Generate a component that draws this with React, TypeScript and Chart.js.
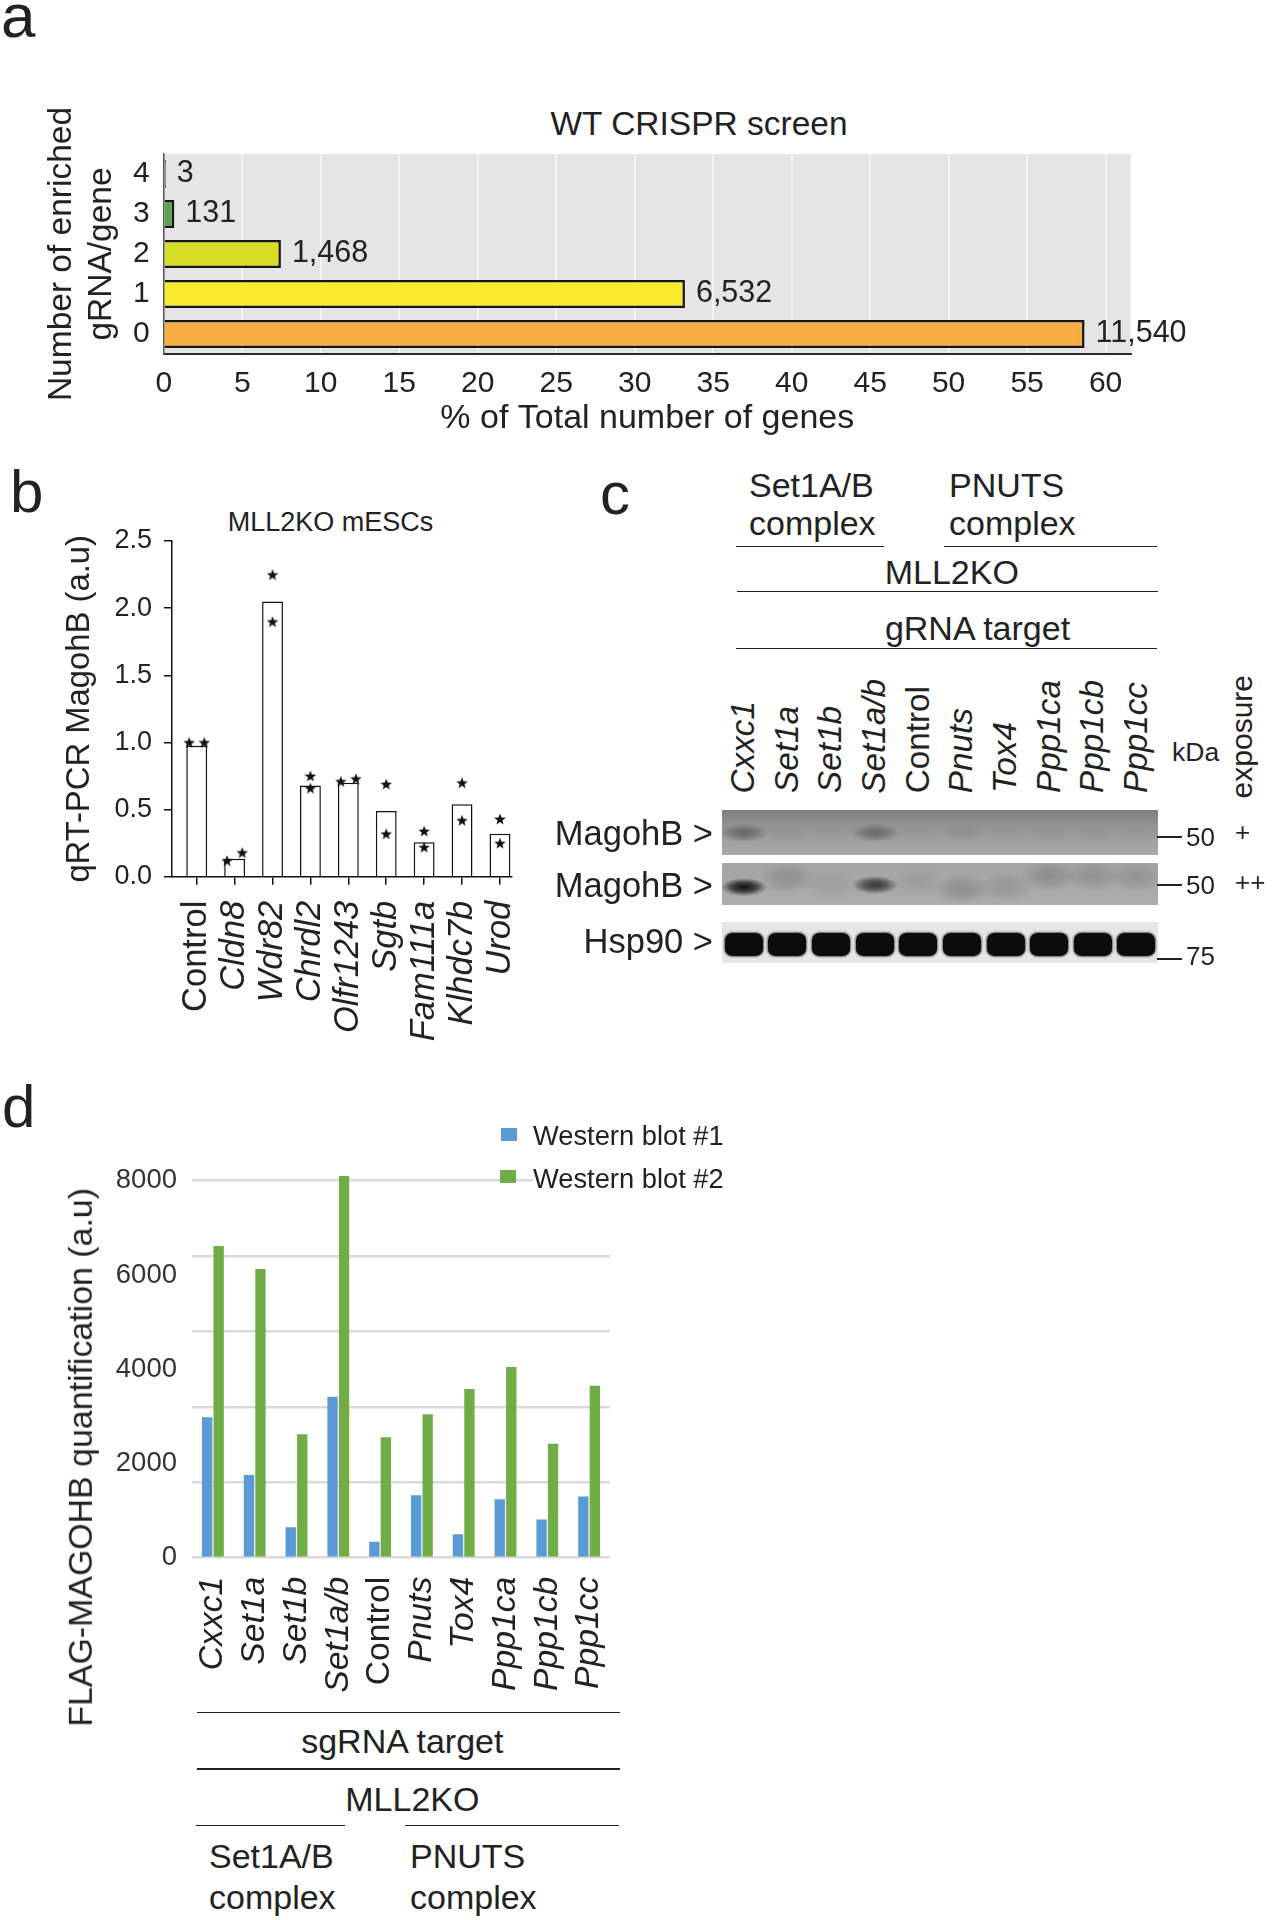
import React, { useEffect, useRef } from 'react';
import { Chart, registerables } from 'chart.js';

Chart.register(...registerables);

const FONT = '"Liberation Sans", Arial, Helvetica, sans-serif';
const INK = '#222222';
Chart.defaults.font.family = FONT;

// ---------------- Panel a : WT CRISPR screen ----------------
const aCategories = ['4', '3', '2', '1', '0'];
const aPercent = [0.02, 0.67, 7.46, 33.2, 58.66];
const aCounts = [3, 131, 1468, 6532, 11540];
const aColors = ['#4E9A45', '#5BA14F', '#D6DE24', '#F9EC30', '#F9AE43'];
const aXTicks = [0, 5, 10, 15, 20, 25, 30, 35, 40, 45, 50, 55, 60];

// ---------------- Panel b : qRT-PCR MagohB ----------------
const bCategories = ['Control', 'Cldn8', 'Wdr82', 'Chrdl2', 'Olfr1243', 'Sgtb', 'Fam111a', 'Klhdc7b', 'Urod'];
const bItalic = [false, true, true, true, true, true, true, true, true];
const bMeans = [0.975, 0.134, 2.05, 0.68, 0.7, 0.49, 0.257, 0.54, 0.32];
const bRep1 = [1.0, 0.12, 2.25, 0.75, 0.71, 0.69, 0.34, 0.7, 0.43];
const bRep2 = [1.0, 0.18, 1.9, 0.66, 0.73, 0.32, 0.22, 0.42, 0.25];
const bSideBySide = [true, true, false, false, true, false, false, false, false];
const bYTicks = [0, 0.5, 1.0, 1.5, 2.0, 2.5];

// ---------------- Panel c : western blot ----------------
const cLanes = ['Cxxc1', 'Set1a', 'Set1b', 'Set1a/b', 'Control', 'Pnuts', 'Tox4', 'Ppp1ca', 'Ppp1cb', 'Ppp1cc'];
const cItalic = [true, true, true, true, false, true, true, true, true, true];
const cBlot1Intensity = [0.34, 0.04, 0.02, 0.32, 0.02, 0.07, 0.02, 0.04, 0.03, 0.02];
const cBlot1Pos = [0.5, 0.5, 0.5, 0.5, 0.5, 0.5, 0.5, 0.5, 0.5, 0.5];
const cBlot2Intensity = [0.95, 0.14, 0.06, 0.72, 0.07, 0.16, 0.12, 0.15, 0.13, 0.12];
const cBlot2Pos = [0.57, 0.35, 0.5, 0.52, 0.45, 0.62, 0.58, 0.3, 0.3, 0.32];
const cHspIntensity = [1, 1, 1, 1, 1, 1, 1, 1, 1, 1];

// ---------------- Panel d : FLAG-MAGOHB quantification ----------------
const dCategories = ['Cxxc1', 'Set1a', 'Set1b', 'Set1a/b', 'Control', 'Pnuts', 'Tox4', 'Ppp1ca', 'Ppp1cb', 'Ppp1cc'];
const dWB1 = [2980, 1755, 645, 3417, 340, 1324, 500, 1242, 809, 1299];
const dWB2 = [6615, 6127, 2618, 8100, 2555, 3043, 3578, 4046, 2416, 3647];
const dGridTicks = [0, 1600, 3200, 4800, 6400, 8000];
const dLabelTicks = [0, 2000, 4000, 6000, 8000];
const dSeries = ['Western blot #1', 'Western blot #2'];
const dColors = ['#5B9BD5', '#70AD47'];

// ---------------- helpers ----------------
function Txt(props: any) {
  const { x, y, size, children, align = 'left', italic = false, bg } = props;
  const style: any = {
    position: 'absolute',
    top: y - 0.8465 * size,
    fontSize: size,
    lineHeight: `${size}px`,
    height: size,
    fontFamily: FONT,
    color: INK,
    whiteSpace: 'nowrap',
    fontStyle: italic ? 'italic' : 'normal',
  };
  if (bg) style.background = bg;
  if (align === 'left') style.left = x;
  else if (align === 'right') style.right = 1274 - x;
  else {
    style.left = x;
    style.transform = 'translateX(-50%)';
  }
  return <div style={style}>{children}</div>;
}

function VTxt(props: any) {
  const { cx, bottom, size, italic = false, children } = props;
  return (
    <div
      style={{
        position: 'absolute',
        left: cx - size / 2,
        bottom: 1920 - bottom,
        width: size,
        fontSize: size,
        lineHeight: `${size}px`,
        fontFamily: FONT,
        color: INK,
        whiteSpace: 'nowrap',
        fontStyle: italic ? 'italic' : 'normal',
        writingMode: 'vertical-rl',
        transform: 'rotate(180deg)',
      }}
    >
      {children}
    </div>
  );
}

function HLine(props: any) {
  const { x1, x2, y, w = 1.5 } = props;
  return <div style={{ position: 'absolute', left: x1, top: y - w / 2, width: x2 - x1, height: w, background: INK }} />;
}

function ChartCanvas(props: any) {
  const { left, top, width, height, build } = props;
  const ref = useRef<HTMLCanvasElement>(null);
  useEffect(() => {
    const chart = build(ref.current);
    return () => chart.destroy();
  }, []);
  return (
    <canvas
      ref={ref}
      width={width}
      height={height}
      style={{ position: 'absolute', left, top, width, height }}
    />
  );
}

function makeStar(size: number) {
  const c = document.createElement('canvas');
  c.width = size;
  c.height = size;
  const g = c.getContext('2d') as CanvasRenderingContext2D;
  const cx = size / 2;
  const cy = size / 2 + size * 0.05;
  const R = size / 2;
  const r = R * 0.42;
  g.beginPath();
  for (let k = 0; k < 10; k++) {
    const ang = -Math.PI / 2 + (k * Math.PI) / 5;
    const rad = k % 2 === 0 ? R : r;
    const px = cx + rad * Math.cos(ang);
    const py = cy + rad * Math.sin(ang);
    if (k === 0) g.moveTo(px, py);
    else g.lineTo(px, py);
  }
  g.closePath();
  g.fillStyle = '#111';
  g.fill();
  return c;
}

// ---------------- chart builders ----------------
function buildA(canvas: HTMLCanvasElement) {
  const bgPlugin = {
    id: 'aBackground',
    beforeDraw(chart: any) {
      const { ctx, chartArea: a } = chart;
      ctx.save();
      ctx.fillStyle = '#E5E5E5';
      ctx.fillRect(a.left, a.top, a.right - a.left, a.bottom - a.top);
      ctx.restore();
    },
  };
  const labelPlugin = {
    id: 'aValueLabels',
    afterDatasetsDraw(chart: any) {
      const meta = chart.getDatasetMeta(0);
      const ctx = chart.ctx;
      ctx.save();
      ctx.font = `30.5px ${FONT}`;
      ctx.fillStyle = INK;
      ctx.textBaseline = 'middle';
      ctx.textAlign = 'left';
      meta.data.forEach((bar: any, i: number) => {
        ctx.fillText(aCounts[i].toLocaleString('en-US'), bar.x + 11, bar.y);
      });
      ctx.restore();
    },
  };
  return new Chart(canvas, {
    type: 'bar',
    data: {
      labels: aCategories,
      datasets: [
        {
          data: aPercent,
          backgroundColor: aColors,
          borderColor: '#151515',
          borderWidth: 2.5,
          borderSkipped: 'start',
          barPercentage: 0.7,
          categoryPercentage: 1,
          minBarLength: 2,
        },
      ],
    },
    options: {
      indexAxis: 'y',
      responsive: false,
      animation: false,
      layout: { padding: { top: 64, right: 143.3, left: 0, bottom: 0 } },
      plugins: { legend: { display: false }, tooltip: { enabled: false } },
      scales: {
        x: {
          type: 'linear',
          min: 0,
          max: 61.6,
          afterBuildTicks: (s: any) => {
            s.ticks = aXTicks.map((v) => ({ value: v }));
          },
          afterFit: (s: any) => {
            s.height = 88;
          },
          grid: {
            color: (c: any) => (c.tick && c.tick.value === 0 ? 'rgba(0,0,0,0)' : '#F4F4F4'),
            lineWidth: 2,
            drawTicks: false,
          },
          border: { display: true, color: '#2a2a2a', width: 2 },
          ticks: { font: { family: FONT, size: 30 }, color: INK, padding: 12, maxRotation: 0, autoSkip: false },
          title: {
            display: true,
            text: '% of Total number of genes',
            font: { family: FONT, size: 34 },
            color: INK,
            padding: { top: 0, bottom: 3 },
          },
        },
        y: {
          afterFit: (s: any) => {
            s.width = 163.8;
          },
          grid: { display: false, drawTicks: false },
          border: { display: true, color: '#555', width: 1.5 },
          ticks: { font: { family: FONT, size: 30 }, color: INK, padding: 14 },
          title: {
            display: true,
            text: ['Number of enriched', 'gRNA/gene'],
            font: { family: FONT, size: 33.5, lineHeight: 1.19 },
            color: INK,
            padding: { top: 42, bottom: 0 },
          },
        },
      },
    },
    plugins: [bgPlugin, labelPlugin],
  } as any);
}

function buildB(canvas: HTMLCanvasElement) {
  const star = makeStar(12);
  const stars: any[] = [];
  bCategories.forEach((_, i) => {
    const dx = bSideBySide[i] ? 0.2 : 0;
    stars.push({ x: i - dx, y: bRep1[i] });
    stars.push({ x: i + dx, y: bRep2[i] });
  });
  return new Chart(canvas, {
    type: 'bar',
    data: {
      datasets: [
        {
          type: 'bar',
          data: bCategories.map((_, i) => ({ x: i, y: bMeans[i] })),
          backgroundColor: '#ffffff',
          borderColor: '#111',
          borderWidth: 1.5,
          borderSkipped: 'start',
          barPercentage: 0.55,
          categoryPercentage: 1,
          order: 2,
        },
        {
          type: 'scatter',
          data: stars,
          pointStyle: star,
          pointRadius: 5,
          order: 1,
        },
      ],
    },
    options: {
      responsive: false,
      animation: false,
      layout: { padding: { top: 41, right: 48.3, left: 0, bottom: 0 } },
      plugins: { legend: { display: false }, tooltip: { enabled: false } },
      scales: {
        x: {
          type: 'linear',
          offset: false,
          min: -0.66,
          max: 8.31,
          afterBuildTicks: (s: any) => {
            s.ticks = bCategories.map((_, i) => ({ value: i }));
          },
          afterFit: (s: any) => {
            s.height = 183.3;
          },
          grid: {
            display: true,
            offset: false,
            drawOnChartArea: false,
            drawTicks: true,
            tickLength: 8,
            color: '#111',
            lineWidth: 1.5,
          },
          border: { display: true, color: '#111', width: 1.5 },
          ticks: {
            autoSkip: false,
            maxRotation: 90,
            minRotation: 90,
            padding: 16,
            color: INK,
            font: (c: any) => ({ family: FONT, size: 34.5, style: bItalic[c.index] ? 'italic' : 'normal' }),
            callback: (v: any) => (bCategories[Math.round(v)] !== undefined ? bCategories[Math.round(v)] : ''),
          },
        },
        y: {
          min: 0,
          max: 2.5,
          afterBuildTicks: (s: any) => {
            s.ticks = bYTicks.map((v) => ({ value: v }));
          },
          afterFit: (s: any) => {
            s.width = 171.7;
          },
          grid: {
            display: true,
            drawOnChartArea: false,
            drawTicks: true,
            tickLength: 7.7,
            color: '#111',
            lineWidth: 1.5,
          },
          border: { display: true, color: '#111', width: 1.5 },
          ticks: {
            padding: 12,
            color: INK,
            font: { family: FONT, size: 27 },
            callback: (v: any) => Number(v).toFixed(1),
          },
          title: {
            display: true,
            text: 'qRT-PCR MagohB (a.u)',
            color: INK,
            font: { family: FONT, size: 32.8 },
            padding: { top: 60.5, bottom: 0 },
          },
        },
      },
    },
  } as any);
}

function buildD(canvas: HTMLCanvasElement) {
  const allTicks = Array.from(new Set([...dGridTicks, ...dLabelTicks])).sort((p, q) => p - q);
  return new Chart(canvas, {
    type: 'bar',
    data: {
      labels: dCategories,
      datasets: dSeries.map((name, k) => ({
        label: name,
        data: k === 0 ? dWB1 : dWB2,
        backgroundColor: dColors[k],
        borderWidth: 0,
        categoryPercentage: 0.55,
        barPercentage: 0.9,
      })),
    },
    options: {
      responsive: false,
      animation: false,
      layout: { padding: { top: 71.3, right: 90, left: 0, bottom: 0 } },
      plugins: { legend: { display: false }, tooltip: { enabled: false } },
      scales: {
        x: {
          afterFit: (s: any) => {
            s.height = 142.3;
          },
          grid: { display: false },
          border: { display: false },
          ticks: {
            autoSkip: false,
            maxRotation: 90,
            minRotation: 90,
            padding: 11,
            color: INK,
            font: (c: any) => ({
              family: FONT,
              size: 33.7,
              style: dCategories[c.index] === 'Control' ? 'normal' : 'italic',
            }),
          },
        },
        y: {
          min: 0,
          max: 8200,
          afterBuildTicks: (s: any) => {
            s.ticks = allTicks.map((v) => ({ value: v }));
          },
          afterFit: (s: any) => {
            s.width = 192;
          },
          grid: {
            color: (c: any) => (c.tick && dGridTicks.includes(c.tick.value) ? '#D9D9D9' : 'rgba(0,0,0,0)'),
            lineWidth: 2.5,
            drawTicks: false,
          },
          border: { display: false },
          ticks: {
            padding: 15,
            color: '#333',
            font: { family: FONT, size: 27.5 },
            callback: (v: any) => (dLabelTicks.includes(v) ? String(v) : ''),
          },
        },
      },
    },
  } as any);
}

// ---------------- blot (panel c) ----------------
const BLOT_LEFT = 722;
const BLOT_RIGHT = 1158.3;
const LANE_W = (BLOT_RIGHT - BLOT_LEFT) / cLanes.length;

function Blot(props: any) {
  const { top, height, background, intensity, pos, kind } = props;
  return (
    <div
      style={{
        position: 'absolute',
        left: BLOT_LEFT,
        top,
        width: BLOT_RIGHT - BLOT_LEFT,
        height,
        background,
        overflow: 'hidden',
      }}
    >
      {intensity.map((v: number, i: number) => {
        const cx = LANE_W * (i + 0.5);
        if (kind === 'hsp') {
          return (
            <div
              key={i}
              style={{
                position: 'absolute',
                left: cx - 19,
                top: height * 0.27,
                width: 38,
                height: 23,
                borderRadius: '8px / 7px',
                background: `rgba(12,12,12,${v})`,
                boxShadow: `0 0 2px 1px rgba(20,20,20,${0.6 * v})`,
              }}
            />
          );
        }
        const strong = v > 0.5;
        const bw = kind === 'b1' ? 48 : strong ? 46 : 56;
        const bh = kind === 'b1' ? 18 : strong ? 18 : 30;
        const cy = height * pos[i];
        return (
          <div
            key={i}
            style={{
              position: 'absolute',
              left: cx - bw / 2,
              top: cy - bh / 2,
              width: bw,
              height: bh,
              background: `radial-gradient(ellipse at center, rgba(10,10,10,${v}) 0%, rgba(10,10,10,${v * 0.7}) 35%, rgba(10,10,10,0) 72%)`,
            }}
          />
        );
      })}
    </div>
  );
}

// ---------------- App ----------------
export default function App() {
  return (
    <div
      style={{
        position: 'absolute',
        left: 0,
        top: 0,
        width: 1274,
        height: 1920,
        background: '#ffffff',
        overflow: 'hidden',
        fontFamily: FONT,
      }}
    >
      {/* Panel a */}
      <Txt x={1} y={37} size={62}>a</Txt>
      <Txt x={699} y={135.5} size={33.5} align="center">WT CRISPR screen</Txt>
      <ChartCanvas left={0} top={90} width={1274} height={352} build={buildA} />

      {/* Panel b */}
      <Txt x={10} y={513} size={60}>b</Txt>
      <Txt x={330.5} y={531.7} size={27} align="center">MLL2KO mESCs</Txt>
      <ChartCanvas left={0} top={500} width={560} height={560} build={buildB} />

      {/* Panel c */}
      <Txt x={600} y={515} size={60}>c</Txt>
      <Txt x={749} y={497} size={34}>Set1A/B</Txt>
      <Txt x={749} y={535} size={34}>complex</Txt>
      <Txt x={949} y={497} size={34}>PNUTS</Txt>
      <Txt x={949} y={535} size={34}>complex</Txt>
      <HLine x1={736} x2={884.4} y={546.7} />
      <HLine x1={943.6} x2={1156.9} y={546.7} />
      <Txt x={951.8} y={583.3} size={34} align="center">MLL2KO</Txt>
      <HLine x1={737} x2={1158.3} y={591.7} />
      <Txt x={977.5} y={640} size={34} align="center">gRNA target</Txt>
      <HLine x1={736} x2={1157} y={648.3} />
      {cLanes.map((name, i) => (
        <VTxt key={name} cx={BLOT_LEFT + LANE_W * (i + 0.5) - 1} bottom={793.3} size={33.3} italic={cItalic[i]}>
          {name}
        </VTxt>
      ))}
      <Txt x={1172} y={761.7} size={26.5}>kDa</Txt>
      <VTxt cx={1242} bottom={798} size={30}>exposure</VTxt>

      <Txt x={713} y={845} size={34.5} align="right">MagohB &gt;</Txt>
      <Txt x={713} y={897} size={34.5} align="right">MagohB &gt;</Txt>
      <Txt x={713} y={953.3} size={34.5} align="right">Hsp90 &gt;</Txt>

      <Blot
        top={810}
        height={45}
        background="linear-gradient(to bottom, #7e7e7e 0%, #949494 35%, #a1a1a1 70%, #a9a9a9 100%)"
        intensity={cBlot1Intensity}
        pos={cBlot1Pos}
        kind="b1"
      />
      <Blot
        top={863.3}
        height={41.7}
        background="linear-gradient(to bottom, #a4a4a4 0%, #adadad 100%)"
        intensity={cBlot2Intensity}
        pos={cBlot2Pos}
        kind="b2"
      />
      <Blot top={921.7} height={41.6} background="#e6e6e6" intensity={cHspIntensity} pos={cBlot1Pos} kind="hsp" />

      <HLine x1={1157} x2={1182} y={837} />
      <HLine x1={1157} x2={1182} y={885} />
      <HLine x1={1157} x2={1182} y={959} />
      <Txt x={1186} y={846.5} size={26}>50</Txt>
      <Txt x={1186} y={894.5} size={26}>50</Txt>
      <Txt x={1186} y={965.5} size={26}>75</Txt>
      <Txt x={1235} y={841} size={26}>+</Txt>
      <Txt x={1235} y={891} size={26}>++</Txt>

      {/* Panel d */}
      <Txt x={2} y={1128} size={60}>d</Txt>
      <ChartCanvas left={0} top={1100} width={700} height={600} build={buildD} />
      <VTxt cx={81} bottom={1727} size={33.9}>FLAG-MAGOHB quantification (a.u)</VTxt>
      <div style={{ position: 'absolute', left: 501, top: 1128, width: 16, height: 13, background: dColors[0] }} />
      <div style={{ position: 'absolute', left: 500, top: 1169.5, width: 16, height: 13.5, background: dColors[1] }} />
      <Txt x={533} y={1145} size={27.3} bg="#ffffff">{dSeries[0]}</Txt>
      <Txt x={533} y={1188.3} size={27.3} bg="#ffffff">{dSeries[1]}</Txt>

      <HLine x1={196.9} x2={619.8} y={1712.7} />
      <Txt x={402.3} y={1753} size={34} align="center">sgRNA target</Txt>
      <HLine x1={196.9} x2={619.8} y={1769} />
      <Txt x={412.4} y={1810.3} size={34} align="center">MLL2KO</Txt>
      <HLine x1={196} x2={345} y={1825.3} />
      <HLine x1={404.5} x2={618.9} y={1825.3} />
      <Txt x={209} y={1868.2} size={34}>Set1A/B</Txt>
      <Txt x={209} y={1908.4} size={34}>complex</Txt>
      <Txt x={410} y={1868.2} size={34}>PNUTS</Txt>
      <Txt x={410} y={1908.4} size={34}>complex</Txt>
    </div>
  );
}
